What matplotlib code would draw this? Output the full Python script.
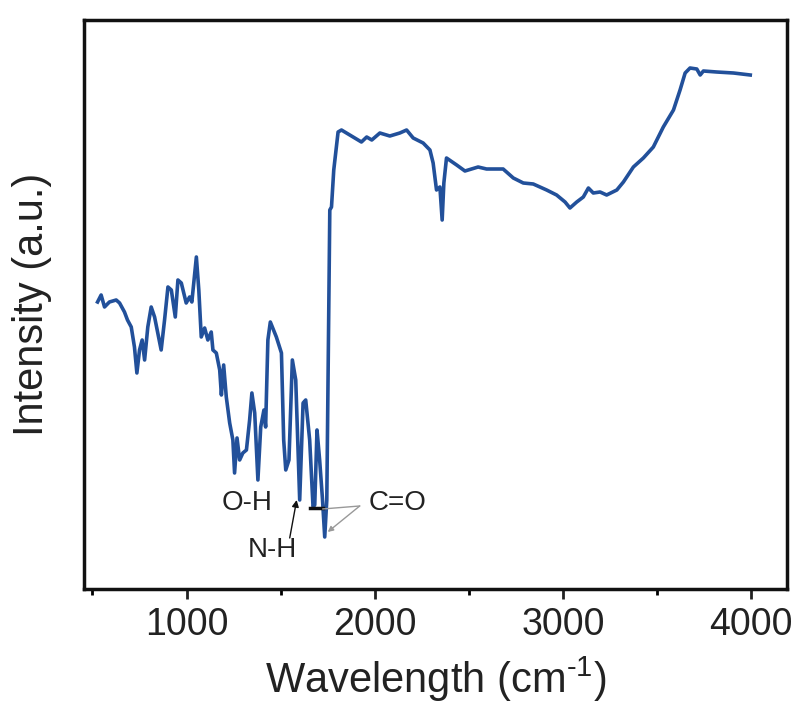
import matplotlib
matplotlib.use("Agg")
import matplotlib.pyplot as plt
from matplotlib.ticker import MultipleLocator

plt.rcParams['font.family'] = ['Liberation Sans', 'DejaVu Sans']
plt.rcParams['mathtext.fontset'] = 'custom'
plt.rcParams['mathtext.rm'] = 'Liberation Sans'
plt.rcParams['mathtext.it'] = 'Liberation Sans'
plt.rcParams['mathtext.bf'] = 'Liberation Sans'

# Wavenumber (cm^-1) and intensity (a.u.)
wavenumber = [527, 546, 564, 590, 626, 644, 670, 686, 706, 723, 736, 750, 764, 777, 794, 812,
              830, 865, 883, 901, 919, 940, 954, 972, 998, 1016, 1028, 1052, 1065, 1078, 1096,
              1113, 1131, 1140, 1158, 1176, 1185, 1197, 1211, 1229, 1246, 1255, 1268, 1282,
              1299, 1318, 1335, 1347, 1362, 1379, 1394, 1411, 1420, 1432, 1445, 1477, 1504,
              1516, 1527, 1544, 1562, 1580, 1601, 1619, 1633, 1654, 1672, 1681, 1693, 1707,
              1722, 1734, 1745, 1761, 1770, 1782, 1805, 1823, 1929, 1957, 1984, 2027, 2080,
              2133, 2169, 2204, 2257, 2293, 2310, 2328, 2346, 2358, 2367, 2381, 2435, 2479,
              2549, 2594, 2682, 2736, 2789, 2842, 2913, 2966, 3011, 3037, 3073, 3108, 3135,
              3161, 3197, 3232, 3286, 3321, 3374, 3427, 3480, 3533, 3587, 3622, 3649, 3675,
              3711, 3729, 3746, 3817, 3906, 3995]
intensity = [287, 294, 282, 287, 289, 286, 277, 269, 262, 242, 216, 239, 249, 229, 262, 282,
             272, 239, 269, 302, 299, 272, 309, 306, 286, 292, 287, 332, 299, 252, 261,
             249, 257, 239, 236, 219, 194, 224, 192, 166, 149, 116, 151, 129,
             136, 139, 169, 196, 176, 109, 162, 179, 162, 249, 267, 252, 236,
             149, 119, 129, 229, 209, 89, 186, 189, 149, 82, 84, 159, 129,
             90, 52, 89, 379, 382, 419, 457, 459, 447, 452, 449, 456, 453,
             456, 459, 451, 446, 439, 426, 399, 402, 369, 406, 431, 424, 418,
             422, 420, 420, 411, 406, 405, 399, 394, 387, 381, 387, 392, 401,
             396, 397, 394, 399, 407, 422, 431, 442, 462, 479, 499, 516, 521,
             520, 514, 518, 517, 516, 514]

x_ticks = [1000, 2000, 3000, 4000]
x_label = "Wavelength (cm$^{\\text{-1}}$)"
y_label = "Intensity (a.u.)"

fig = plt.figure(figsize=(7.97, 7.02), dpi=100)
ax = fig.add_axes([0.1054, 0.161, 0.882, 0.8105])

ax.plot(wavenumber, intensity, color='#22509a', lw=2.6, solid_joinstyle='round')

ax.set_xlim(455, 4190)
ax.set_ylim(0, 569)
ax.set_xticks(x_ticks)
ax.xaxis.set_minor_locator(MultipleLocator(500))
ax.set_yticks([])
ax.tick_params(axis='x', which='major', direction='out', length=7, width=2,
               labelsize=27, pad=6, colors='#222222')
ax.tick_params(axis='x', which='minor', direction='out', length=4, width=2)
for s in ax.spines.values():
    s.set_linewidth(2.5)
    s.set_color('#111111')

ax.set_xlabel(x_label, fontsize=30, labelpad=8, color='#222222')
ax.set_ylabel(y_label, fontsize=30, color='#222222')
ax.yaxis.set_label_coords(-0.045, 0.5)

# annotations
ax.text(1324, 86, "O-H", fontsize=20, ha='center', va='center', color='#222222')
ax.text(1457, 39, "N-H", fontsize=20, ha='center', va='center', color='#222222')
ax.text(2122, 86, "C=O", fontsize=20, ha='center', va='center', color='#222222')
ax.annotate("", xy=(1585, 89), xytext=(1548, 51),
            arrowprops=dict(arrowstyle='-|>', color='#111111', lw=1.0,
                            mutation_scale=10, shrinkA=0, shrinkB=0))
ax.plot([1654, 1723], [81, 81], color='#111111', lw=2.5)
ax.annotate("", xy=(1723, 80), xytext=(1920, 83),
            arrowprops=dict(arrowstyle='-', color='#999999', lw=1.0,
                            shrinkA=0, shrinkB=0))
ax.annotate("", xy=(1750, 57), xytext=(1920, 83),
            arrowprops=dict(arrowstyle='-|>', color='#999999', lw=1.0,
                            mutation_scale=8, shrinkA=0, shrinkB=0))

fig.savefig("out.png", dpi=100)
